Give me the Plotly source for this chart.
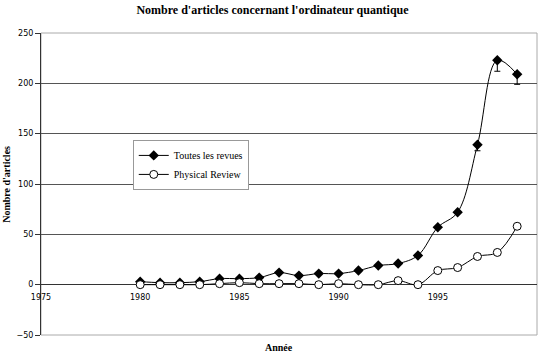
import plotly.graph_objects as go

years = list(range(1980, 2000))
toutes = [3, 2, 2, 3, 6, 6, 7, 12, 9, 11, 11, 14, 19, 21, 29, 57, 72, 139, 223, 209]
toutes_err_minus = [0] * 17 + [6, 11, 10]
physical = [0, 0, 0, 0, 1, 2, 1, 1, 1, 0, 1, 0, 0, 4, 0, 14, 17, 28, 32, 58]

x_ticks = [1975, 1980, 1985, 1990, 1995, 2000]
y_ticks = [-50, 0, 50, 100, 150, 200, 250]

tick_font = dict(family="DejaVu Sans", size=8, color="black")
serif = "Liberation Serif"

fig = go.Figure()
fig.add_trace(go.Scatter(
    x=years, y=toutes, name="Toutes les revues",
    mode="lines+markers", line=dict(color="black", width=1, shape="spline", smoothing=1),
    marker=dict(symbol="diamond", size=8, color="black"),
    error_y=dict(type="data", symmetric=False, array=[0] * len(years),
                 arrayminus=toutes_err_minus, color="black", thickness=1, width=3),
))
fig.add_trace(go.Scatter(
    x=years, y=physical, name="Physical Review",
    mode="lines+markers", line=dict(color="black", width=1, shape="spline", smoothing=1),
    marker=dict(symbol="circle", size=8, color="white", line=dict(color="black", width=1)),
))

fig.update_layout(
    width=545, height=355,
    margin=dict(l=41, r=8, t=33, b=20),
    plot_bgcolor="white", paper_bgcolor="white",
    title=dict(text="<b>Nombre d'articles concernant l'ordinateur quantique</b>",
               x=0.5, xanchor="center", y=0.985, yanchor="top",
               font=dict(family=serif, size=12, color="black")),
    legend=dict(x=0.185, y=0.646, xanchor="left", yanchor="top",
                bgcolor="white", bordercolor="#999999", borderwidth=1,
                font=dict(family=serif, size=10, color="black"),
                tracegroupgap=0, itemwidth=30),
    showlegend=True,
)

fig.update_xaxes(
    range=[1975, 2000], tickvals=x_ticks, showgrid=False, zeroline=False,
    anchor="free", position=1 / 6, showline=False, ticks="",
    ticklabelstandoff=6, tickfont=tick_font,
)
fig.update_yaxes(
    range=[-50, 250], tickvals=y_ticks, showgrid=True, gridcolor="#555555", gridwidth=1,
    zeroline=True, zerolinecolor="#333333", zerolinewidth=1,
    showline=True, linecolor="#333333", linewidth=1,
    ticks="outside", ticklen=5, tickcolor="#333333",
    tickfont=tick_font,
)

# plot border (right / bottom) in light grey
fig.add_shape(type="rect", xref="paper", yref="paper", x0=0, x1=1, y0=0, y1=1,
              line=dict(color="#aaaaaa", width=1), layer="below")

fig.add_annotation(text="<b>Année</b>", xref="paper", yref="paper", x=0.48, y=-0.043,
                   xanchor="center", yanchor="middle", showarrow=False,
                   font=dict(family=serif, size=10, color="black"))
fig.add_annotation(text="<b>Nombre d'articles</b>", xref="paper", yref="paper",
                   x=-0.071, y=0.5, xanchor="center", yanchor="middle",
                   textangle=-90, showarrow=False,
                   font=dict(family=serif, size=10, color="black"))

# drop the default 8px body margin so the figure fills the window
fig.write_html("out.html", config={"displayModeBar": False},
               post_script="document.body.style.margin='0';")
